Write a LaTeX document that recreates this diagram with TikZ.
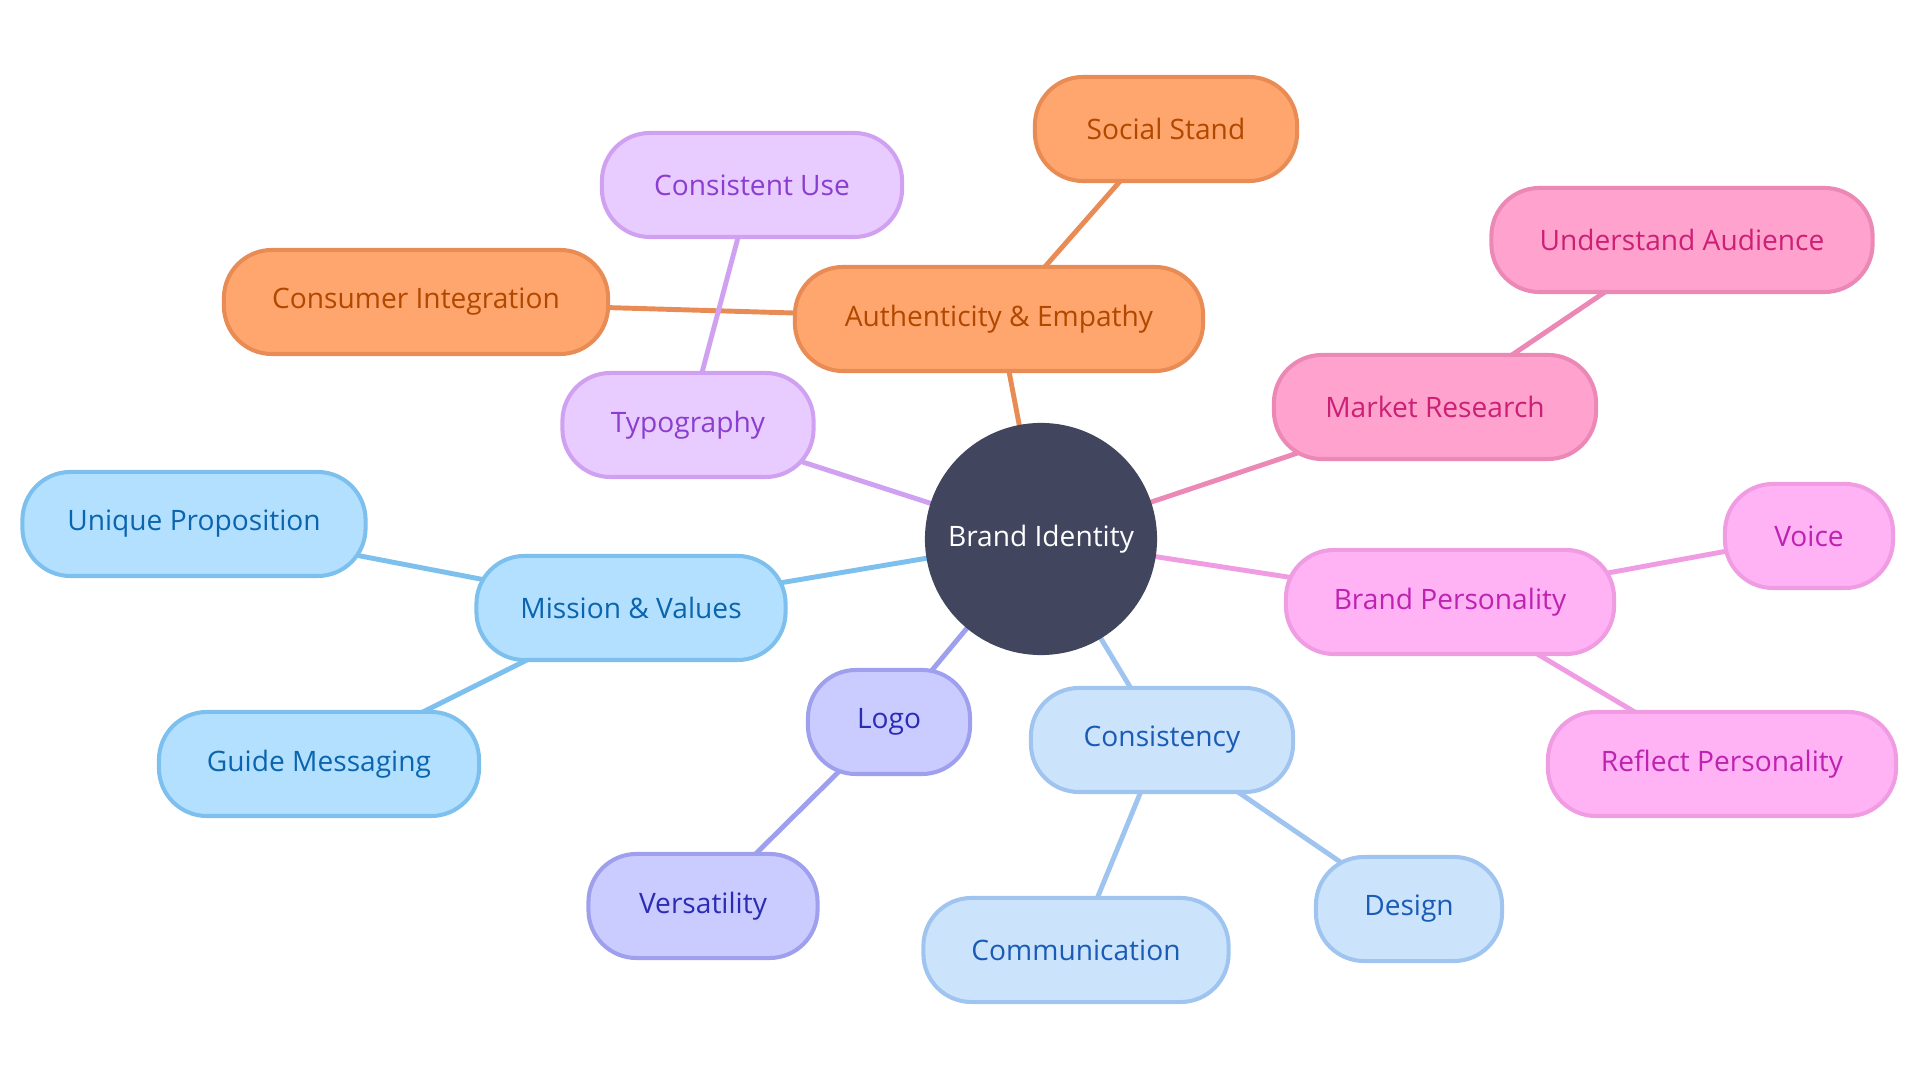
\documentclass[tikz,border=0pt]{standalone}
\usepackage{fontspec}
\setmainfont{Open Sans}
\usetikzlibrary{backgrounds}
\definecolor{rootfill}{HTML}{41455E}
\definecolor{orfill}{HTML}{FFA66F}
\definecolor{ordraw}{HTML}{E98B55}
\definecolor{ortext}{HTML}{B04800}
\definecolor{pufill}{HTML}{E8CCFF}
\definecolor{pudraw}{HTML}{CFA1F0}
\definecolor{putext}{HTML}{8A3DD0}
\definecolor{pkfill}{HTML}{FFA3CE}
\definecolor{pkdraw}{HTML}{EB88B6}
\definecolor{pktext}{HTML}{CC1F75}
\definecolor{mgfill}{HTML}{FFB3F4}
\definecolor{mgdraw}{HTML}{F09CE3}
\definecolor{mgtext}{HTML}{BE22B0}
\definecolor{lbfill}{HTML}{CCE3FC}
\definecolor{lbdraw}{HTML}{9EC4EF}
\definecolor{lbtext}{HTML}{1A5CB5}
\definecolor{vifill}{HTML}{CACBFF}
\definecolor{vidraw}{HTML}{9EA0EE}
\definecolor{vitext}{HTML}{2A2DB3}
\definecolor{skfill}{HTML}{B3E0FF}
\definecolor{skdraw}{HTML}{7DC0EE}
\definecolor{sktext}{HTML}{0B64AE}
\tikzset{
  topic/.style={draw, rounded corners=0.48cm, line width=1.15pt, align=center,
    minimum height=1.04cm, inner xsep=0.3cm, font=\fontsize{8}{10}\selectfont},
  orbox/.style={topic, draw=ordraw, fill=orfill, text=ortext},
  pubox/.style={topic, draw=pudraw, fill=pufill, text=putext},
  pkbox/.style={topic, draw=pkdraw, fill=pkfill, text=pktext},
  mgbox/.style={topic, draw=mgdraw, fill=mgfill, text=mgtext},
  lbbox/.style={topic, draw=lbdraw, fill=lbfill, text=lbtext},
  vibox/.style={topic, draw=vidraw, fill=vifill, text=vitext},
  skbox/.style={topic, draw=skdraw, fill=skfill, text=sktext},
  root/.style={circle, fill=rootfill, text=white, minimum size=2.32cm,
    inner sep=0pt, font=\fontsize{8}{10}\selectfont},
  link/.style={line width=1.4pt}
}
\begin{document}
\begin{tikzpicture}[x=0.01cm, y=-0.01cm]
    \useasboundingbox (0,0) rectangle (1920,1080);
    \node[root] (bi) at (1041,539) {Brand Identity};
    % orange branch
    \node[orbox, minimum width=4.08cm] (ae) at (999,319) {Authenticity \& Empathy};
    \node[orbox, minimum width=2.62cm] (ss) at (1166,129) {Social Stand};
    \node[orbox, minimum width=3.84cm] (ci) at (416,302) {Consumer Integration};
    % purple branch
    \node[pubox, minimum width=2.51cm] (ty) at (688,425) {Typography};
    \node[pubox, minimum width=3.00cm] (cu) at (752,185) {Consistent Use};
    % pink branch
    \node[pkbox, minimum width=3.22cm] (mr) at (1435,407) {Market Research};
    \node[pkbox, minimum width=3.81cm] (ua) at (1682,240) {Understand Audience};
    % magenta branch
    \node[mgbox, minimum width=3.28cm] (bp) at (1450,602) {Brand Personality};
    \node[mgbox, minimum width=1.68cm] (vo) at (1809,536) {Voice};
    \node[mgbox, minimum width=3.48cm] (rp) at (1722,764) {Reflect Personality};
    % light blue branch
    \node[lbbox, minimum width=2.62cm] (cs) at (1162,740) {Consistency};
    \node[lbbox, minimum width=1.86cm] (de) at (1409,909) {Design};
    \node[lbbox, minimum width=3.05cm] (co) at (1076,950) {Communication};
    % violet branch
    \node[vibox, minimum width=1.62cm] (lo) at (889,722) {Logo};
    \node[vibox, minimum width=2.29cm] (ve) at (703,906) {Versatility};
    % sky branch
    \node[skbox, minimum width=3.09cm] (mv) at (631,608) {Mission \& Values};
    \node[skbox, minimum width=3.43cm] (up) at (194,524) {Unique Proposition};
    \node[skbox, minimum width=3.20cm] (gm) at (319,764) {Guide Messaging};
    \begin{scope}[on background layer]
      \draw[link, ordraw] (bi.center) -- (ae.center);
      \draw[link, ordraw] (ae.center) -- (ss.center);
      \draw[link, ordraw] (ae.center) -- (ci.center);
      \draw[link, pudraw] (bi.center) -- (ty.center);
      \draw[link, pudraw] (ty.center) -- (cu.center);
      \draw[link, pkdraw] (bi.center) -- (mr.center);
      \draw[link, pkdraw] (mr.center) -- (ua.center);
      \draw[link, mgdraw] (bi.center) -- (bp.center);
      \draw[link, mgdraw] (bp.center) -- (vo.center);
      \draw[link, mgdraw] (bp.center) -- (rp.center);
      \draw[link, lbdraw] (bi.center) -- (cs.center);
      \draw[link, lbdraw] (cs.center) -- (de.center);
      \draw[link, lbdraw] (cs.center) -- (co.center);
      \draw[link, vidraw] (bi.center) -- (lo.center);
      \draw[link, vidraw] (lo.center) -- (ve.center);
      \draw[link, skdraw] (bi.center) -- (mv.center);
      \draw[link, skdraw] (mv.center) -- (up.center);
      \draw[link, skdraw] (mv.center) -- (gm.center);
    \end{scope}
  \end{tikzpicture}
\end{document}
